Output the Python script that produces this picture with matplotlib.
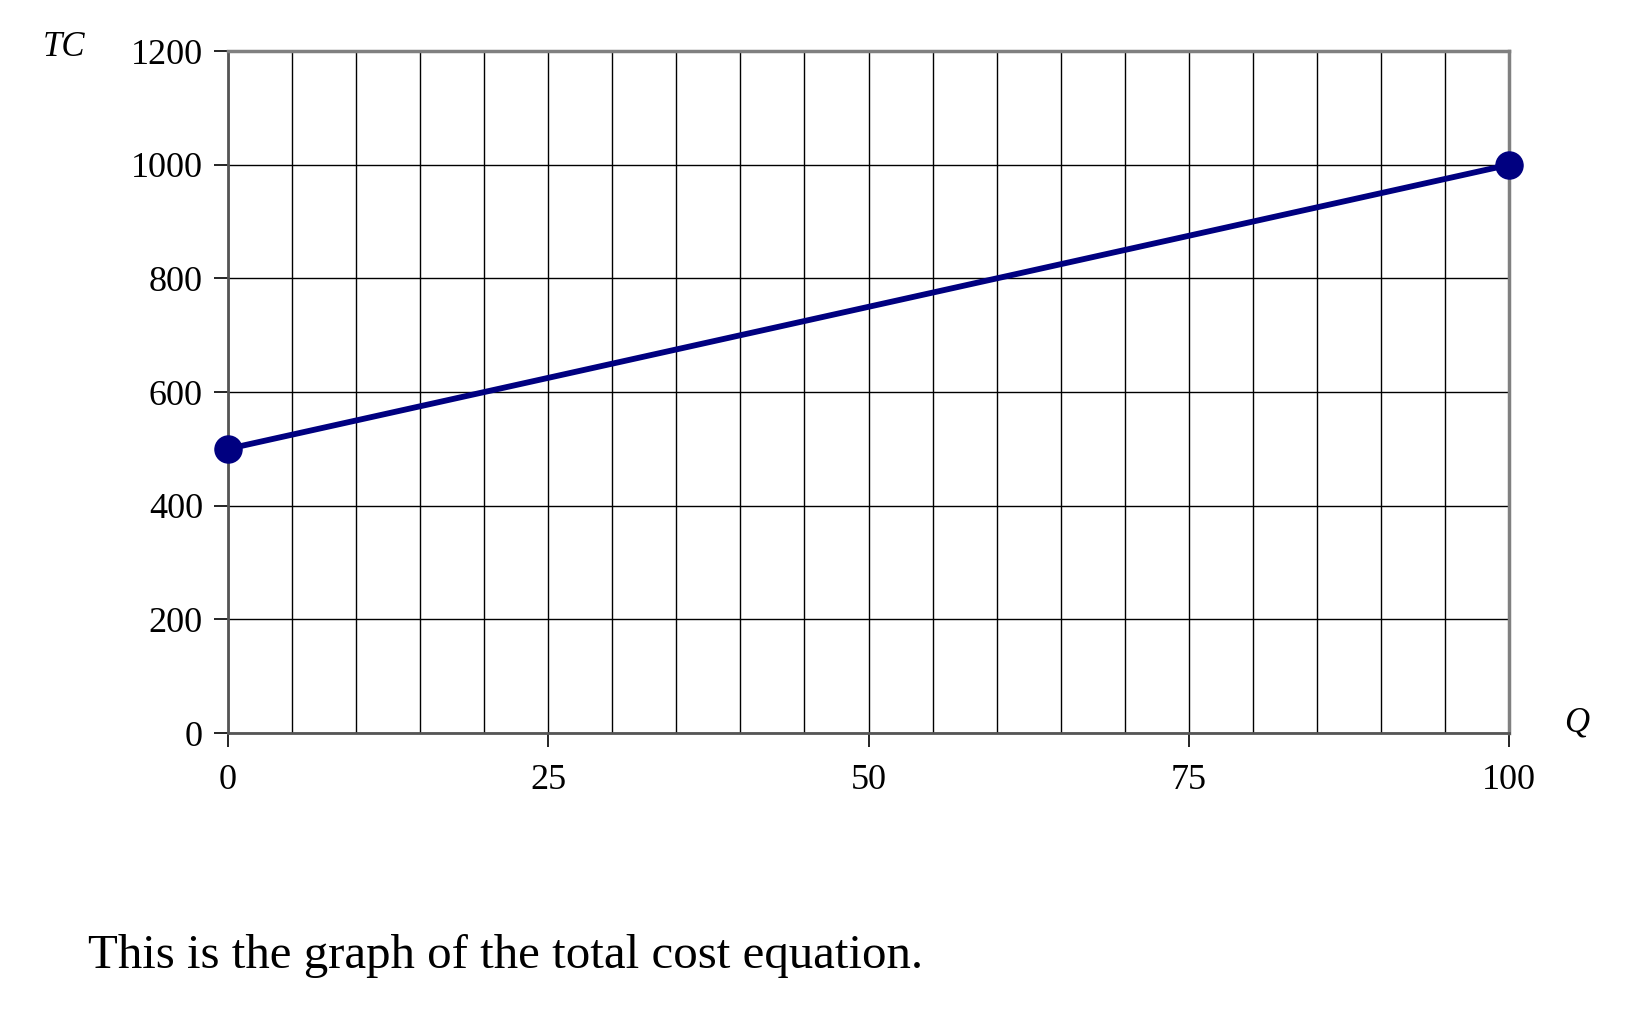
import matplotlib
matplotlib.use("Agg")
import matplotlib.pyplot as plt
import numpy as np

# data
q = [0, 100]
tc = [500, 1000]
x_major = [0, 25, 50, 75, 100]
x_minor = list(range(0, 101, 5))
y_ticks = [0, 200, 400, 600, 800, 1000, 1200]
caption = "This is the graph of the total cost equation."

plt.rcParams["font.family"] = ["Liberation Serif", "DejaVu Serif"]

fig = plt.figure(figsize=(16.28, 10.21), dpi=100)
ax = fig.add_axes([0.140, 0.282, 0.787, 0.668])

ax.plot(q, tc, color="#000080", linewidth=4.2, marker="o", markersize=19.5,
        clip_on=False, zorder=5)

ax.set_xlim(0, 100)
ax.set_ylim(0, 1200)
ax.set_xticks(x_major)
ax.set_xticks(x_minor, minor=True)
ax.set_yticks(y_ticks)
ax.grid(True, which="both", color="black", linewidth=1.0)
ax.set_axisbelow(True)

ax.tick_params(axis="both", which="major", direction="out", length=10,
               width=1.2, labelsize=26, color="black")
ax.tick_params(axis="x", which="major", pad=12)
ax.tick_params(axis="y", which="major", pad=8)
ax.tick_params(axis="x", which="minor", length=0)

for side in ["top", "right"]:
    ax.spines[side].set_color("#808080")
    ax.spines[side].set_linewidth(2.5)
for side in ["left", "bottom"]:
    ax.spines[side].set_color("#555555")
    ax.spines[side].set_linewidth(2.0)

fig.text(64 / 1628, 1 - 48 / 1021, "TC", fontsize=25, style="italic",
         ha="center", va="center")
fig.text(1577 / 1628, 1 - 723 / 1021, "Q", fontsize=25, style="italic",
         ha="center", va="center")
fig.text(88 / 1628, 1 - 956 / 1021, caption, fontsize=35.2,
         ha="left", va="center")

fig.savefig("out.png", dpi=100, facecolor="white")
